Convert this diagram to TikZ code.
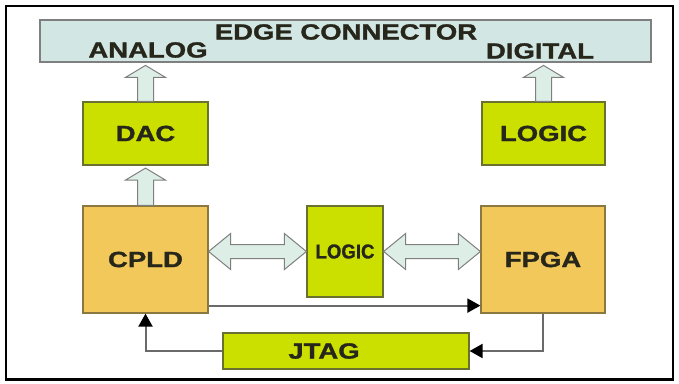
\documentclass[tikz,border=0pt]{standalone}
\usepackage{fontspec}
\usepackage{graphicx}
\setmainfont{Liberation Sans}[BoldFeatures={FakeBold=1.2}]
\usetikzlibrary{calc,arrows.meta}
\definecolor{gfill}{HTML}{CCE000}
\definecolor{ofill}{HTML}{F2C85A}
\definecolor{efill}{HTML}{D2E6E4}
\definecolor{afill}{HTML}{DDEEE6}
\definecolor{gline}{HTML}{6A7030}
\definecolor{oline}{HTML}{8A7840}
\definecolor{eline}{HTML}{7F7F7F}
\definecolor{txt}{HTML}{26261A}
\definecolor{wire}{HTML}{6A6A6A}
\newcommand\lblfont{\bfseries\fontsize{22}{22}\selectfont}
\newcommand\stretchtxt[1]{\scalebox{1.25}[1]{#1}}
\newcommand\upfat[2]{\draw[fatarrow] let \p1=(#1), \p2=(#2) in
  (\x1-8pt,\y1) -- (\x1-8pt,\y2-12pt) -- (\x1-20pt,\y2-12pt) -- (\x1,\y2)
  -- (\x1+20pt,\y2-12pt) -- (\x1+8pt,\y2-12pt) -- (\x1+8pt,\y1) -- cycle;}
\newcommand\dblfat[2]{\draw[fatarrow] let \p1=(#1), \p2=(#2) in
  (\x1,\y1) -- (\x1+22pt,\y1+18pt) -- (\x1+22pt,\y1+7pt) -- (\x2-22pt,\y1+7pt)
  -- (\x2-22pt,\y1+18pt) -- (\x2,\y1) -- (\x2-22pt,\y1-18pt) -- (\x2-22pt,\y1-7pt)
  -- (\x1+22pt,\y1-7pt) -- (\x1+22pt,\y1-18pt) -- cycle;}
\begin{document}
\begin{tikzpicture}[x=1pt,y=-1pt,
  greenbox/.style={draw=gline,fill=gfill,line width=1.2pt,inner sep=0pt,text=txt,font=\lblfont},
  orangebox/.style={draw=oline,fill=ofill,line width=1.2pt,inner sep=0pt,text=txt,font=\lblfont},
  edgebox/.style={draw=eline,fill=efill,line width=1.8pt,inner sep=0pt},
  lbl/.style={inner sep=0pt,text=txt,font=\lblfont},
  fatarrow/.style={draw=eline,fill=afill,line width=1pt,line join=miter},
  thinarrow/.style={draw=wire,line width=2pt,-{Triangle[length=13pt,width=14pt,color=black]}}]
\useasboundingbox (0,0) rectangle (679,383);
\fill[white] (0,0) rectangle (679,383);
\draw[line width=2.4pt] (6,6) rectangle (673,379.5);
% nodes
\node[edgebox,minimum width=611pt,minimum height=42pt] (edge) at (345.5,41) {};
\node[lbl] (edgetxt) at (346,32) {\stretchtxt{EDGE CONNECTOR}};
\node[lbl] (analog) at (148,50) {\stretchtxt{ANALOG}};
\node[lbl] (digital) at (540,51) {\stretchtxt{DIGITAL}};
\node[greenbox,minimum width=125pt,minimum height=63pt] (dac) at (145.5,133.5) {\stretchtxt{DAC}};
\node[greenbox,minimum width=123pt,minimum height=63pt] (rlogic) at (543.5,133.5) {\stretchtxt{LOGIC}};
\node[orangebox,minimum width=125pt,minimum height=107pt] (cpld) at (145.5,259.5) {\stretchtxt{CPLD}};
\node[orangebox,minimum width=124pt,minimum height=107pt] (fpga) at (543,259.5) {\stretchtxt{FPGA}};
\node[greenbox,minimum width=76pt,minimum height=91pt,font=\bfseries\fontsize{20}{20}\selectfont] (mlogic) at (345,251.5) {\scalebox{0.93}[1]{LOGIC}};
\node[greenbox,minimum width=246pt,minimum height=36pt] (jtag) at (346,351) {};
\node[lbl] (jtagtxt) at (324,351) {\stretchtxt{JTAG}};
% fat arrows
\upfat{cpld.north}{$(dac.south)+(0,2.5)$}
\upfat{dac.north}{$(dac.north |- edge.south)+(0,2.5)$}
\upfat{rlogic.north}{$(rlogic.north |- edge.south)+(0,2.5)$}
\dblfat{cpld.east |- mlogic.center}{mlogic.west}
\dblfat{mlogic.east}{fpga.west |- mlogic.center}
% thin arrows
\draw[thinarrow] ($(cpld.south east)+(0,-8)$) -- ($(fpga.south west)+(0,-8)$);
\draw[thinarrow] (fpga.south) |- (jtag.east);
\draw[thinarrow] (jtag.west) -| (cpld.south);
\end{tikzpicture}
\end{document}
